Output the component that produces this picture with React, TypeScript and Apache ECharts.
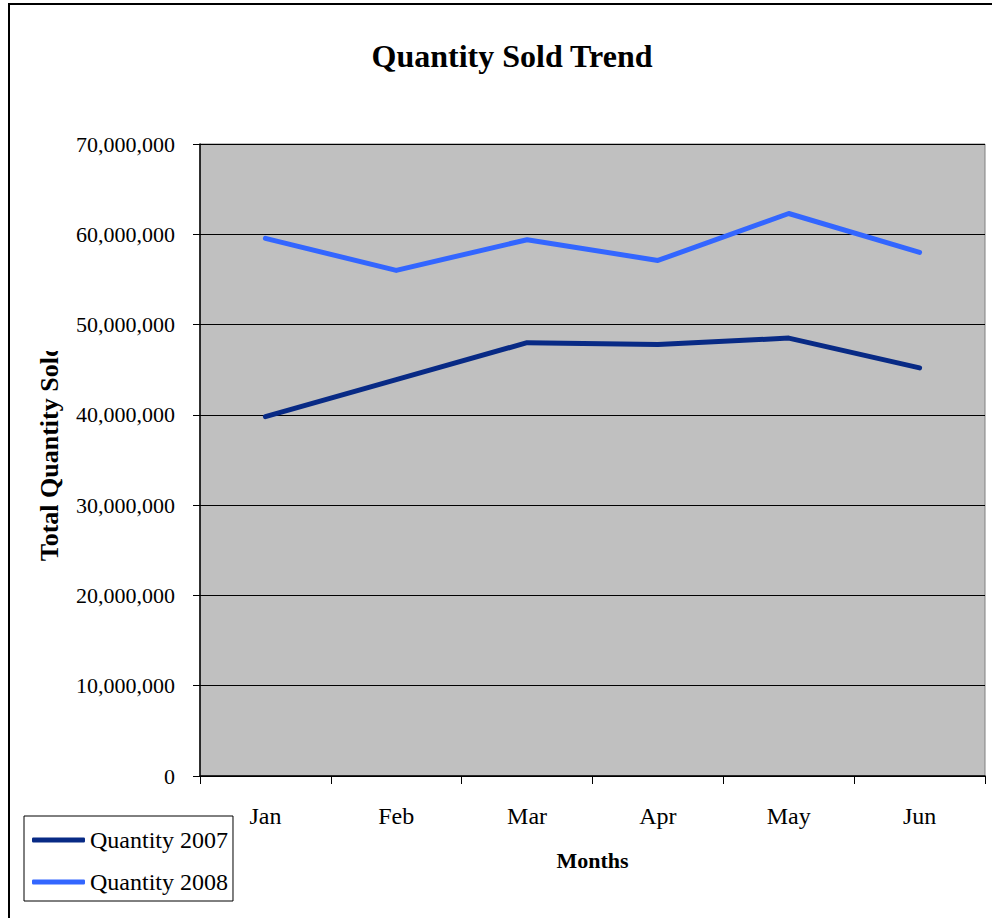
import React, { useEffect, useRef } from "react";
import * as echarts from "echarts";

const months = ["Jan", "Feb", "Mar", "Apr", "May", "Jun"];
const quantity2007 = [39800000, 43900000, 48000000, 47800000, 48500000, 45200000];
const quantity2008 = [59550000, 56000000, 59400000, 57100000, 62300000, 58000000];
const seriesNames = ["Quantity 2007", "Quantity 2008"];
const yMin = 0;
const yMax = 70000000;
const yInterval = 10000000;

const FONT = "'Liberation Serif', 'Times New Roman', serif";

export default function App() {
  const ref = useRef<HTMLDivElement>(null);
  useEffect(() => {
    if (!ref.current) return;
    const chart = echarts.init(ref.current, undefined, { renderer: "svg" });
    chart.setOption({
      animation: false,
      backgroundColor: "#ffffff",
      title: {
        text: "Quantity Sold Trend",
        left: 507,
        top: 35,
        textAlign: "center",
        textStyle: { fontFamily: FONT, fontSize: 32, fontWeight: "bold", color: "#000" },
      },
      grid: {
        left: 200,
        top: 144,
        right: 7,
        bottom: 142,
        show: true,
        backgroundColor: "#C0C0C0",
        borderColor: "#808080",
        borderWidth: 1,
      },
      legend: {
        orient: "vertical",
        left: 24,
        top: 816,
        padding: [12, 5, 7, 8],
        itemGap: 18,
        itemWidth: 53,
        itemHeight: 5,
        icon: "roundRect",
        borderColor: "#000",
        borderWidth: 1,
        backgroundColor: "#fff",
        textStyle: { fontFamily: FONT, fontSize: 24, color: "#000", lineHeight: 24 },
        data: seriesNames,
      },
      xAxis: {
        type: "category",
        data: months,
        boundaryGap: true,
        name: "Months",
        nameLocation: "middle",
        nameGap: 73,
        nameTextStyle: { fontFamily: FONT, fontSize: 22, fontWeight: "bold", color: "#000" },
        axisLine: { lineStyle: { color: "#000", width: 1.5 } },
        axisTick: { show: true, length: 8, lineStyle: { color: "#000" } },
        axisLabel: { fontFamily: FONT, fontSize: 24, color: "#000", margin: 28 },
        splitLine: { show: false },
      },
      yAxis: {
        type: "value",
        min: yMin,
        max: yMax,
        interval: yInterval,
        axisLine: { show: true, lineStyle: { color: "#000", width: 1.5 } },
        axisTick: { show: true, length: 7, lineStyle: { color: "#000" } },
        axisLabel: {
          fontFamily: FONT,
          fontSize: 22,
          color: "#000",
          margin: 25,
          formatter: (v: number) => v.toLocaleString("en-US"),
        },
        splitLine: { show: true, lineStyle: { color: "#000", width: 1 } },
      },
      series: [
        {
          name: seriesNames[0],
          type: "line",
          data: quantity2007,
          symbol: "none",
          lineStyle: { color: "#082A85", width: 5, cap: "round", join: "round" },
          itemStyle: { color: "#082A85" },
        },
        {
          name: seriesNames[1],
          type: "line",
          data: quantity2008,
          symbol: "none",
          lineStyle: { color: "#3366FF", width: 5, cap: "round", join: "round" },
          itemStyle: { color: "#3366FF" },
        },
      ],
      graphic: [
        {
          type: "rect",
          silent: true,
          shape: { x: 9, y: 4, width: 1200, height: 1200 },
          style: { fill: "none", stroke: "#000", lineWidth: 2 },
          z: 0,
        },
        {
          type: "text",
          x: 49,
          y: 452,
          rotation: Math.PI / 2,
          style: {
            text: "Total Quantity Sold",
            font: `bold 26px ${FONT}`,
            fill: "#000",
            textAlign: "center",
            textVerticalAlign: "middle",
          },
          z: 10,
        },
        {
          type: "rect",
          silent: true,
          shape: { x: 30, y: 10, width: 36, height: 341 },
          style: { fill: "#fff" },
          z: 20,
        },
      ],
    });
    return () => chart.dispose();
  }, []);
  return (
    <div
      ref={ref}
      style={{ position: "fixed", left: 0, top: 0, width: 992, height: 918 }}
    />
  );
}
